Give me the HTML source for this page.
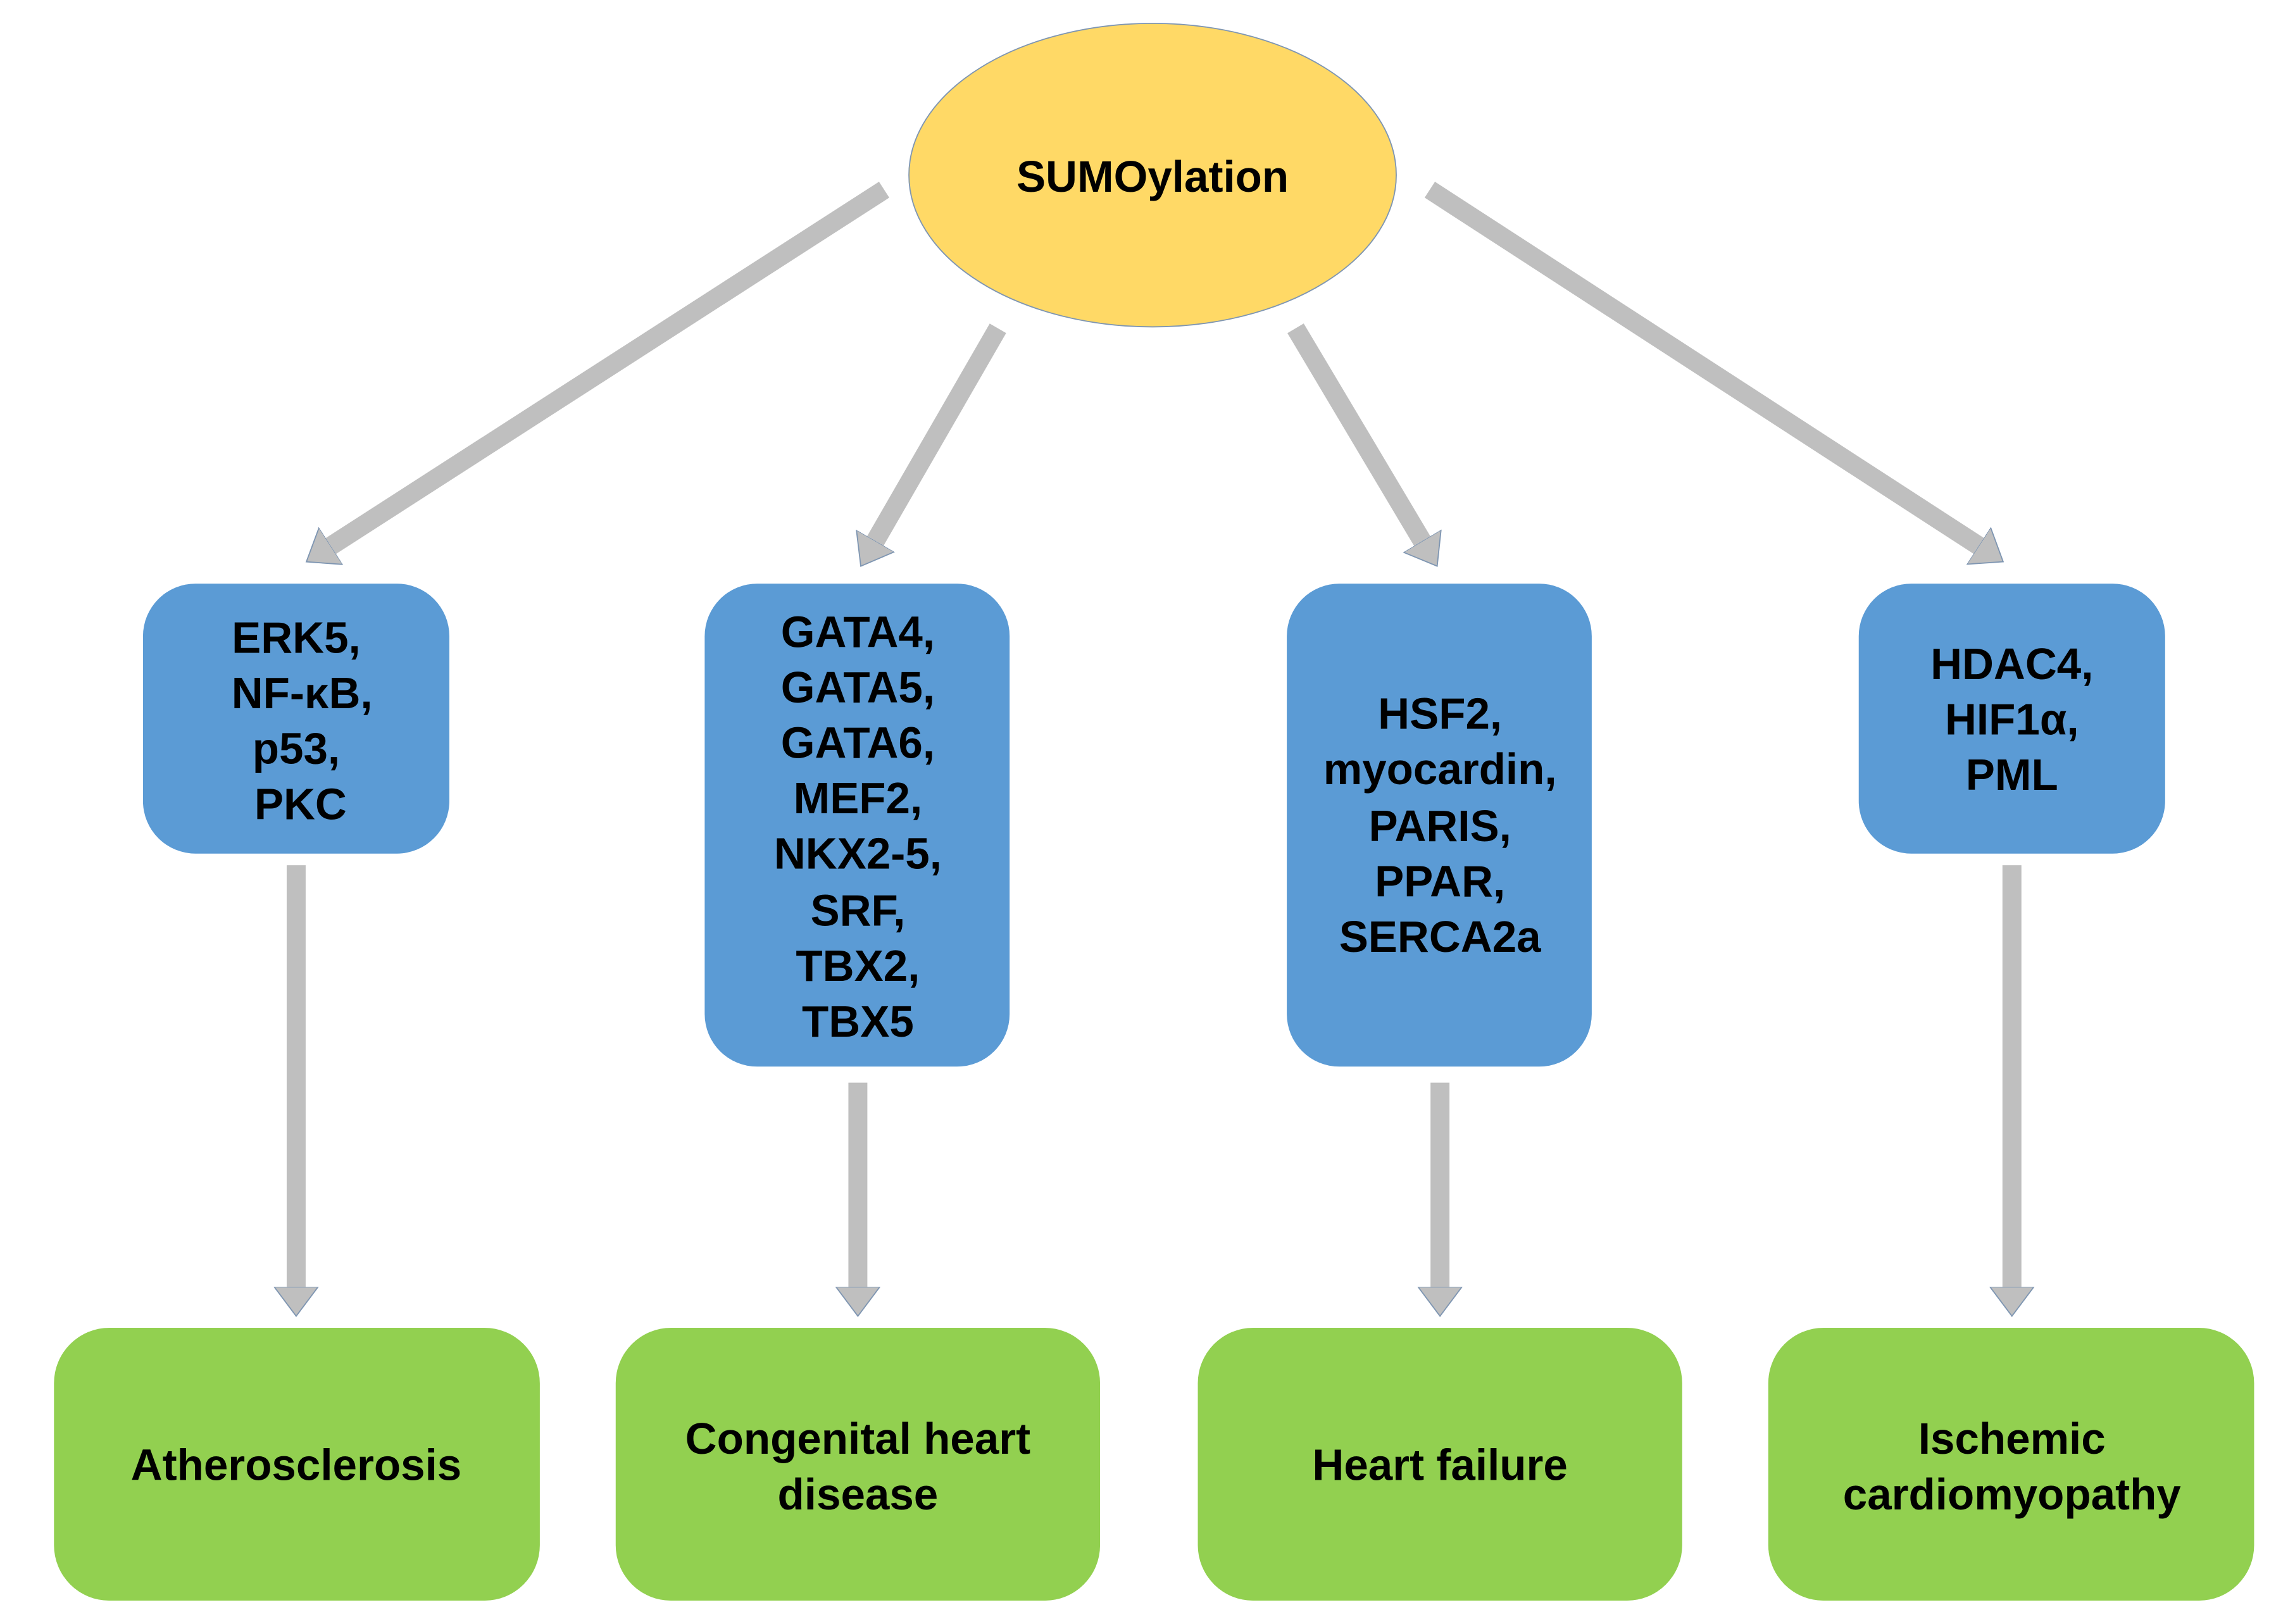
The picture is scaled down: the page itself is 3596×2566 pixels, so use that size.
<!DOCTYPE html>
<html><head><meta charset="utf-8"><style>
html,body{margin:0;padding:0;background:#fff;}
svg{display:block;}
text{font-family:"Liberation Sans",Arial,sans-serif;font-weight:bold;fill:#000;font-size:30px;}
</style></head><body>
<svg width="3596" height="2566" viewBox="0 0 1560 1113" preserveAspectRatio="none" xmlns="http://www.w3.org/2000/svg">
<defs>
<marker id="ah" markerUnits="userSpaceOnUse" markerWidth="22" markerHeight="32" refX="0" refY="16" orient="auto">
<path d="M0,1 L20,16 L0,31 Z" fill="#BFBFBF" stroke="#7F96B2" stroke-width="0.8"/>
</marker>
</defs>
<g stroke="#BFBFBF" stroke-width="13" marker-end="url(#ah)">
<line x1="606" y1="130" x2="226.8" y2="374.2"/>
<line x1="684" y1="225" x2="600" y2="370.7"/>
<line x1="888" y1="225" x2="974.8" y2="370.8"/>
<line x1="980" y1="130" x2="1356.2" y2="374.1"/>
<line x1="203" y1="593" x2="203" y2="882"/>
<line x1="588" y1="742" x2="588" y2="882"/>
<line x1="987" y1="742" x2="987" y2="882"/>
<line x1="1379" y1="593" x2="1379" y2="882"/>
</g>
<ellipse cx="790" cy="120" rx="167" ry="104" fill="#FFD966" stroke="#7F96B2" stroke-width="0.8"/>
<text x="790" y="121" text-anchor="middle" dominant-baseline="central">SUMOylation</text>
<g fill="#5B9BD5">
<rect x="98" y="400" width="210" height="185" rx="36"/>
<rect x="483" y="400" width="209" height="331" rx="36"/>
<rect x="882" y="400" width="209" height="331" rx="36"/>
<rect x="1274" y="400" width="210" height="185" rx="36"/>
</g>
<g fill="#92D050">
<rect x="37" y="910" width="333" height="187" rx="38"/>
<rect x="422" y="910" width="332" height="187" rx="38"/>
<rect x="821" y="910" width="332" height="187" rx="38"/>
<rect x="1212" y="910" width="333" height="187" rx="38"/>
</g>
<g text-anchor="middle" dominant-baseline="central">
<text x="203" y="437">ERK5,</text>
<text x="207" y="475">NF-κB,</text>
<text x="203" y="513">p53,</text>
<text x="206" y="551">PKC</text>
<text x="588" y="433">GATA4,</text>
<text x="588" y="471">GATA5,</text>
<text x="588" y="509">GATA6,</text>
<text x="588" y="547">MEF2,</text>
<text x="588" y="585">NKX2-5,</text>
<text x="588" y="624">SRF,</text>
<text x="588" y="662">TBX2,</text>
<text x="588" y="700">TBX5</text>
<text x="987" y="489">HSF2,</text>
<text x="987" y="527">myocardin,</text>
<text x="987" y="566">PARIS,</text>
<text x="987" y="604">PPAR,</text>
<text x="987" y="642">SERCA2a</text>
<text x="1379" y="455">HDAC4,</text>
<text x="1379" y="493">HIF1α,</text>
<text x="1379" y="531">PML</text>
<text x="203" y="1004">Atherosclerosis</text>
<text x="588" y="986">Congenital heart</text>
<text x="588" y="1024">disease</text>
<text x="987" y="1004">Heart failure</text>
<text x="1379" y="986">Ischemic</text>
<text x="1379" y="1024">cardiomyopathy</text>
</g>
</svg>
</body></html>
